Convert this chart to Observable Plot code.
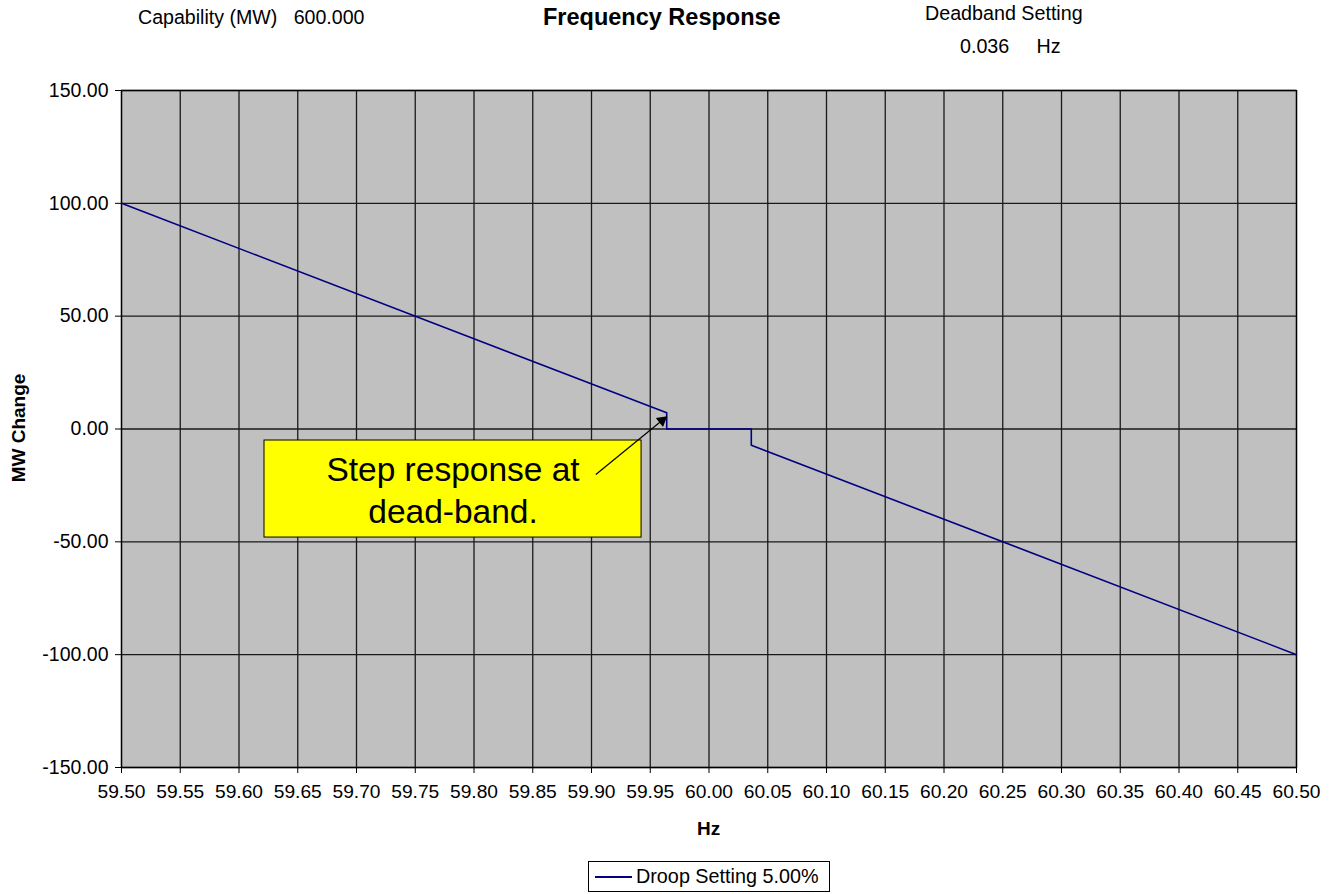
<!DOCTYPE html>
<html>
<head>
<meta charset="utf-8">
<script src="https://cdn.jsdelivr.net/npm/d3@7"></script>
<script src="https://cdn.jsdelivr.net/npm/@observablehq/plot@0.6"></script>
<style>
  html, body { margin: 0; padding: 0; background: #fff; }
  body { font-family: "Liberation Sans", Arial, sans-serif; color: #000; }
  #wrap { position: relative; width: 1333px; height: 894px; overflow: hidden; }
  .t { position: absolute; white-space: pre; line-height: 1; }
</style>
</head>
<body>
<div id="wrap">
  <div class="t" style="left:138px; top:8px; font-size:19.6px;">Capability (MW)   600.000</div>
  <div class="t" style="left:543px; top:6px; font-size:23.5px; font-weight:bold;">Frequency Response</div>
  <div class="t" style="left:925px; top:4px; font-size:19.7px;">Deadband Setting</div>
  <div class="t" style="left:960px; top:37px; font-size:19.7px;">0.036     Hz</div>
  <div class="t" style="left:697px; top:819px; font-size:19px; font-weight:bold;">Hz</div>
  <div class="t" style="left:18px; top:428px; font-size:19px; font-weight:bold; transform: translate(-50%,-50%) rotate(-90deg);">MW Change</div>
  <div id="legend" class="t" style="left:588px; top:861px; width:242px; height:31px; border:1px solid #000; box-sizing:border-box; font-size:19.8px; display:flex; align-items:center;">
    <span style="display:inline-block; width:37px; height:0; border-top:2px solid #000080; margin:0 4px 0 6px;"></span><span>Droop Setting 5.00%</span>
  </div>
</div>
<script>
// Frequency response data (droop 5%, capability 600 MW, deadband 0.036 Hz)
const hz = [59.5, 59.964, 59.964, 60.036, 60.036, 60.5];
const mw = [100, 7.2, 0, 0, -7.2, -100];

const xTicks = [59.50, 59.55, 59.60, 59.65, 59.70, 59.75, 59.80, 59.85, 59.90, 59.95,
                60.00, 60.05, 60.10, 60.15, 60.20, 60.25, 60.30, 60.35, 60.40, 60.45, 60.50];
const yTicks = [-150, -100, -50, 0, 50, 100, 150];

// Annotation (callout box and arrow) in data units
const noteText = ["Step response at", "dead-band."];
const noteBoxX = [59.6217, 59.9426];
const noteBoxY = [-48.1, -5.1];
const noteArrowFrom = [59.9037, -20.2];
const noteArrowTo = [59.9600, 3.8];

const data = hz.map((h, i) => ({hz: h, mw: mw[i]}));
const fmt2 = v => v.toFixed(2);

const chart = Plot.plot({
  width: 1333,
  height: 894,
  marginLeft: 121,
  marginRight: 37,
  marginTop: 90,
  marginBottom: 127,
  style: {fontFamily: "'Liberation Sans', Arial, sans-serif", fontSize: "19px", background: "transparent", color: "#000"},
  x: {domain: [59.5, 60.5]},
  y: {domain: [-150, 150]},
  marks: [
    Plot.frame({fill: "#C0C0C0", stroke: null}),
    Plot.ruleX(xTicks, {stroke: "#1a1a1a", strokeWidth: 1.3}),
    Plot.ruleY(yTicks, {stroke: "#1a1a1a", strokeWidth: 1.3}),
    Plot.frame({stroke: "#000", strokeWidth: 1.3}),
    Plot.axisX({ticks: xTicks, tickFormat: fmt2, tickSize: 6, tickPadding: 11, fontSize: 19.2, label: null, stroke: "#000"}),
    Plot.axisY({ticks: yTicks, tickFormat: fmt2, tickSize: 6, tickPadding: 7, fontSize: 19.5, label: null, stroke: "#000"}),
    Plot.line(data, {x: "hz", y: "mw", stroke: "#000080", strokeWidth: 1.6}),
    Plot.rect([{x1: noteBoxX[0], x2: noteBoxX[1], y1: noteBoxY[0], y2: noteBoxY[1]}],
      {x1: "x1", x2: "x2", y1: "y1", y2: "y2", fill: "#FFFF00", stroke: "#000", strokeWidth: 1}),
    Plot.text([noteText.join("\n")], {
      x: (noteBoxX[0] + noteBoxX[1]) / 2,
      y: (noteBoxY[0] + noteBoxY[1]) / 2,
      text: d => d, fontSize: 33.5, lineHeight: 1.25, fill: "#000", textAnchor: "middle"
    }),
    Plot.link([{a: noteArrowFrom, b: noteArrowTo}], {
      x1: d => d.a[0], y1: d => d.a[1], x2: d => d.b[0], y2: d => d.b[1],
      stroke: "#000", strokeWidth: 1.2
    }),
    Plot.dot([noteArrowTo], {x: d => d[0], y: d => d[1], symbol: "triangle2", r: 5.5, fill: "#000", rotate: 51})
  ]
});
chart.style.position = "absolute";
chart.style.left = "0";
chart.style.top = "0";
document.getElementById("wrap").prepend(chart);
</script>
</body>
</html>
